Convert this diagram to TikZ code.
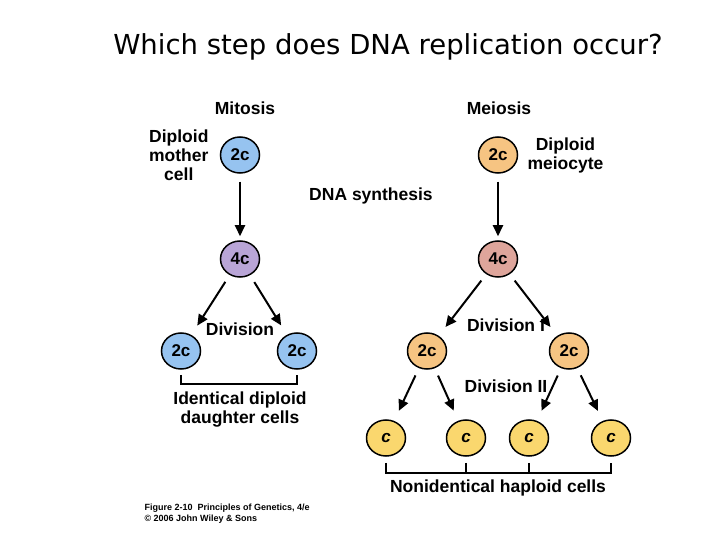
\documentclass[tikz,border=0pt]{standalone}
\usepackage{fontspec}
\setmainfont{Liberation Sans}
\newfontfamily\titlefont{DejaVu Sans}
\usetikzlibrary{arrows.meta,shapes.geometric}
\definecolor{mitblue}{RGB}{150,195,240}
\definecolor{mitpurple}{RGB}{185,165,215}
\definecolor{meiorange}{RGB}{246,196,130}
\definecolor{meipink}{RGB}{222,165,155}
\definecolor{meiyellow}{RGB}{250,215,110}
\tikzset{
  cell/.style={ellipse, draw, line width=1.5pt, minimum width=39pt, minimum height=36pt, inner sep=0pt, font=\fontsize{17}{19}\selectfont\bfseries},
  lbl/.style={font=\fontsize{17.5}{19}\selectfont\bfseries, align=center},
  arr/.style={-{Triangle[length=11pt,width=10pt]}, line width=2pt, shorten >=11pt, shorten <=8pt},
  brk/.style={line width=2pt}
}
\begin{document}
\begin{tikzpicture}[x=1pt,y=-1pt]
\useasboundingbox (0,0) rectangle (720,540);
% Titel
\node[font=\titlefont\fontsize{27.5}{30}\selectfont] (title) at (388,47) {Which step does DNA replication occur?};

% Mitose
\node[lbl] (mitosis) at (245,108) {Mitosis};
\node[cell, fill=mitblue] (m2c) at (240,155) {2c};
\node[lbl, anchor=east, align=center] (mother) at (212,155) {Diploid\\mother\\cell};
\node[cell, fill=mitpurple] (m4c) at (240,259) {4c};
\node[cell, fill=mitblue] (mleft) at (181,351) {2c};
\node[cell, fill=mitblue] (mright) at (297,351) {2c};
\node[lbl] (division) at (240,329) {Division};
\node[lbl] (daughter) at (240,410) {Identical diploid\\daughter cells};
\draw[arr, shorten >=4pt] (m2c) -- (m4c);
\draw[arr] (m4c) -- (mleft);
\draw[arr] (m4c) -- (mright);
\draw[brk] ([yshift=-5pt]mleft.south) -- ++(0,9) -| ([yshift=-5pt]mright.south);

% Meiose
\node[lbl] (meiosis) at (499,108) {Meiosis};
\node[cell, fill=meiorange] (e2c) at (498,155) {2c};
\node[lbl, anchor=west] (meiocyte) at (524,155) {Diploid\\meiocyte};
\node[lbl] (synthesis) at (371,196) {DNA synthesis};
\node[cell, fill=meipink] (e4c) at (498,259) {4c};
\node[cell, fill=meiorange] (eleft) at (427,351) {2c};
\node[cell, fill=meiorange] (eright) at (569,351) {2c};
\node[lbl] (divone) at (506,325) {Division I};
\node[lbl] (divtwo) at (506,386) {Division II};
\draw[arr, shorten >=4pt] (e2c) -- (e4c);
\draw[arr] (e4c) -- (eleft);
\draw[arr] (e4c) -- (eright);

% Haploide Zellen
\foreach \name/\x in {ca/386,cb/466,cc/529,cd/611} {
  \node[cell, fill=meiyellow] (\name) at (\x,438) {\itshape c};
}
\draw[arr] (eleft) -- (ca);
\draw[arr] (eleft) -- (cb);
\draw[arr] (eright) -- (cc);
\draw[arr] (eright) -- (cd);
\draw[brk] ([yshift=-6pt]ca.south) -- ++(0,10) -| ([yshift=-6pt]cd.south);
\foreach \name in {cb,cc} {
  \draw[brk] ([yshift=-6pt]\name.south) -- ++(0,10);
}
\node[lbl] (haploid) at (498,488) {Nonidentical haploid cells};

% Quelle
\node[font=\fontsize{9}{11}\selectfont\bfseries, align=left, anchor=west] (source) at (141,514) {Figure 2-10\ \ Principles of Genetics, 4/e\\\copyright\ 2006 John Wiley \& Sons};
\end{tikzpicture}
\end{document}
